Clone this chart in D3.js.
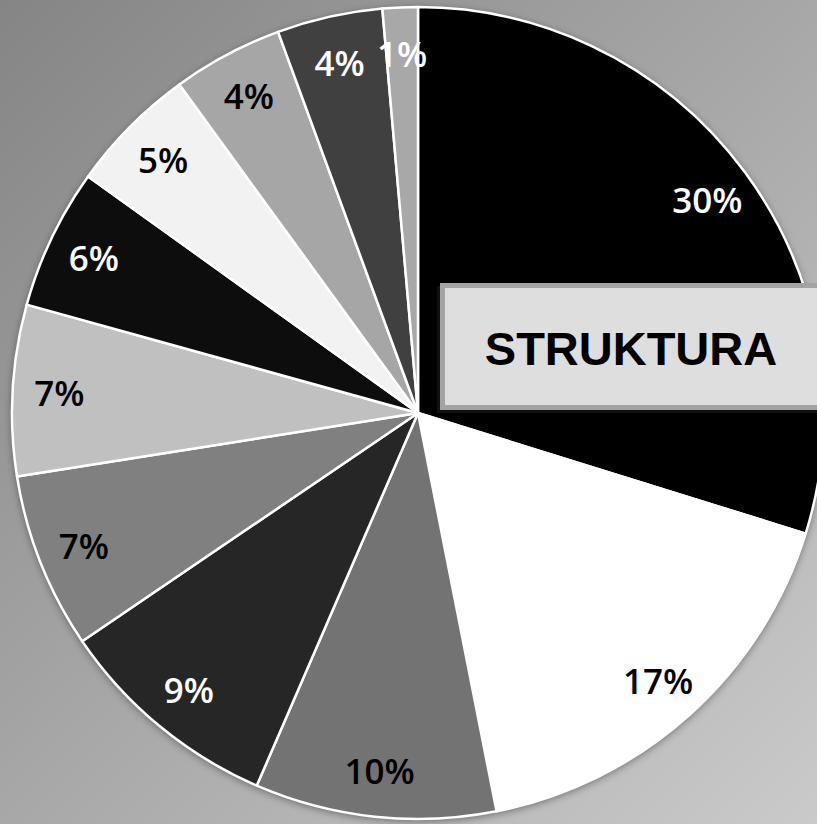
<!DOCTYPE html>
<html>
<head>
<meta charset="utf-8">
<script src="https://cdn.jsdelivr.net/npm/d3@7"></script>
<style>
  html, body { margin: 0; padding: 0; overflow: hidden; }
  svg { display: block; }
</style>
</head>
<body>
<div id="chart"></div>
<script>
// slice shares, clockwise from 12 o'clock
const values = [29.8, 17.1, 9.6, 9.0, 7.0, 6.8, 5.6, 5.1, 4.4, 4.2, 1.4];
const labels = ["30%", "17%", "10%", "9%", "7%", "7%", "6%", "5%", "4%", "4%", "1%"];
const fills = ["#000000", "#ffffff", "#737373", "#262626", "#808080", "#c0c0c0",
               "#0d0d0d", "#f2f2f2", "#a6a6a6", "#404040", "#a8a8a8"];
const labelColors = ["#fff", "#000", "#000", "#fff", "#000", "#000",
                     "#fff", "#000", "#000", "#fff", "#fff"];
const title = "STRUKTURA";

const width = 817, height = 824;
const cx = 418, cy = 413, radius = 406;

const svg = d3.select("#chart")
  .append("svg")
  .attr("width", width)
  .attr("height", height);

const defs = svg.append("defs");
const bg = defs.append("linearGradient")
  .attr("id", "bg")
  .attr("x1", "0").attr("y1", "0")
  .attr("x2", "1").attr("y2", "1");
bg.append("stop").attr("offset", "0%").attr("stop-color", "#858585");
bg.append("stop").attr("offset", "100%").attr("stop-color", "#cacaca");

const shadow = defs.append("filter")
  .attr("id", "shadow")
  .attr("x", "-20%").attr("y", "-20%")
  .attr("width", "140%").attr("height", "140%");
shadow.append("feDropShadow")
  .attr("dx", 0).attr("dy", 2)
  .attr("stdDeviation", 4)
  .attr("flood-color", "#000")
  .attr("flood-opacity", 0.45);

svg.append("rect")
  .attr("width", width)
  .attr("height", height)
  .attr("fill", "url(#bg)");

const pie = d3.pie().sort(null).value(d => d);
const arcs = pie(values);

const arc = d3.arc().innerRadius(0).outerRadius(radius);
const labelArc = d3.arc().innerRadius(radius * 0.885).outerRadius(radius * 0.885);

const g = svg.append("g")
  .attr("transform", `translate(${cx},${cy})`);

g.append("circle")
  .attr("r", radius)
  .attr("fill", "#fff")
  .attr("filter", "url(#shadow)");

g.selectAll(".slice")
  .data(arcs)
  .enter()
  .append("path")
  .attr("class", "slice")
  .attr("d", arc)
  .attr("fill", (d, i) => fills[i])
  .attr("stroke", "#fff")
  .attr("stroke-width", 2.5)
  .attr("stroke-linejoin", "round");

g.selectAll(".lbl")
  .data(arcs)
  .enter()
  .append("text")
  .attr("class", "lbl")
  .attr("transform", d => `translate(${labelArc.centroid(d)})`)
  .attr("text-anchor", "middle")
  .attr("dy", "0.38em")
  .style("font-family", "'Open Sans', sans-serif")
  .style("font-weight", 600)
  .style("font-size", "35px")
  .attr("fill", (d, i) => labelColors[i])
  .text((d, i) => labels[i]);

// title box on the right, partly cut off by the edge
const box = svg.append("g");
box.append("rect")
  .attr("x", 437).attr("y", 286)
  .attr("width", 400).attr("height", 127)
  .attr("fill", "#1a1a1a")
  .attr("opacity", 0.6);
box.append("rect")
  .attr("x", 442.5).attr("y", 285.5)
  .attr("width", 400).attr("height", 122)
  .attr("fill", "#dedede")
  .attr("stroke", "#a3a3a3")
  .attr("stroke-width", 5);
box.append("text")
  .attr("x", 631)
  .attr("y", 365)
  .attr("text-anchor", "middle")
  .style("font-family", "'Liberation Sans', Arial, sans-serif")
  .style("font-weight", "bold")
  .style("font-size", "47px")
  .attr("fill", "#000")
  .text(title);
</script>
</body>
</html>
